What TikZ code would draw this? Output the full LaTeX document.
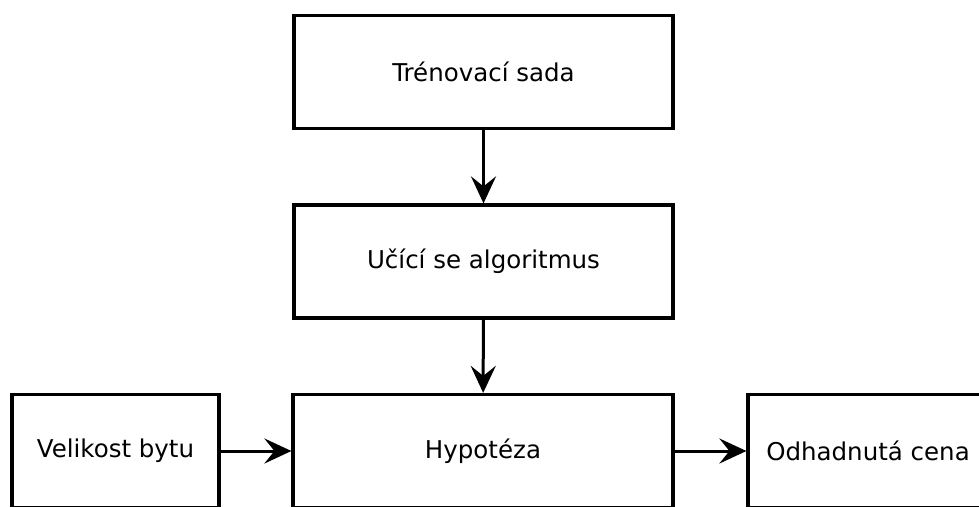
\documentclass[tikz,border=0pt]{standalone}
\usepackage{fontspec}
\setmainfont{DejaVu Sans}
\usetikzlibrary{arrows.meta}
\begin{document}
\begin{tikzpicture}[x=1pt,y=-1pt,
  box/.style={draw=black, line width=3.3pt, fill=white, inner sep=0pt, outer sep=1.6pt,
    font=\fontsize{24.5}{29}\selectfont, minimum height=113pt},
  conn/.style={line width=3pt, -{Stealth[length=27pt,width=25pt,inset=10pt]}}]
\useasboundingbox (0,0) rectangle (979,506);
\clip (0,0) rectangle (979,506);
\fill[white] (0,0) rectangle (979,506);
\node[box, minimum width=379pt] (train) at (483.5,72) {Trénovací sada};
\node[box, minimum width=379pt] (learn) at (483.5,261.5) {Učící se algoritmus};
\node[box, minimum width=380pt] (hyp) at (483,451) {Hypotéza};
\node[box, minimum width=207pt] (size) at (115.5,451) {Velikost bytu};
\node[box, minimum width=240pt] (price) at (868,451) {Odhadnutá cena};
\draw[conn] (train) -- (learn);
\draw[conn] (learn) -- (hyp);
\draw[conn] (size) -- (hyp);
\draw[conn] (hyp) -- (price);
\end{tikzpicture}
\end{document}
